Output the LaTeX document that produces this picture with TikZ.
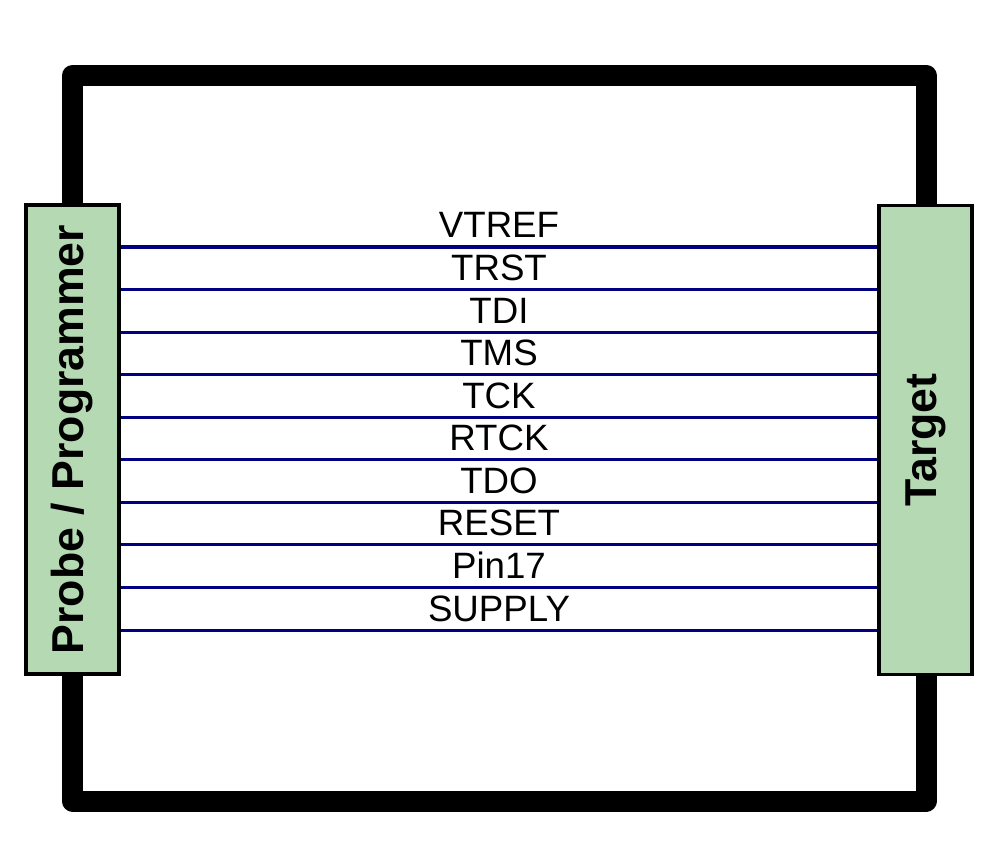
\documentclass[tikz,border=0pt]{standalone}
\usepackage{fontspec}
\setmainfont{Liberation Sans}
\definecolor{boxgreen}{RGB}{181,217,178}
\definecolor{wire}{RGB}{0,0,128}
\usetikzlibrary{positioning}

\begin{document}
\begin{tikzpicture}[x=0.75pt, y=-0.75pt,
    side/.style={draw=black, line width=2.6pt, fill=boxgreen, minimum width=70pt, minimum height=352pt, inner sep=0pt},
    sidetext/.style={rotate=90, font=\fontsize{33.5pt}{40pt}\selectfont\bfseries},
    signal/.style={draw=wire, line width=2.3pt},
    siglabel/.style={anchor=base, inner sep=0pt, font=\fontsize{27.5pt}{33pt}\selectfont}]

    \useasboundingbox (0,0) rectangle (1000,863);

    % outer loop
    \draw[line width=15.75pt, line join=round] (72.5,75.5) rectangle (926,801);

    % probe and target
    \node[side] (probe) at (72.5,439.5) {};
    \node[sidetext] (probetext) at (probe.center) {Probe / Programmer};
    \node[side] (target) at (925.5,440) {};
    \node[sidetext] (targettext) at (target.center) {Target};

    % signals
    \foreach \sig [count=\i] in {VTREF,TRST,TDI,TMS,TCK,RTCK,TDO,RESET,Pin17,SUPPLY} {
        \pgfmathsetmacro\yy{247+42.56*(\i-1)}
        \coordinate (w\i) at (0,\yy);
        \draw[signal] (probe.east |- w\i) -- (target.west |- w\i);
        \node[siglabel] (lbl\i) at (499,\yy-9) {\sig};
    }

\end{tikzpicture}
\end{document}
